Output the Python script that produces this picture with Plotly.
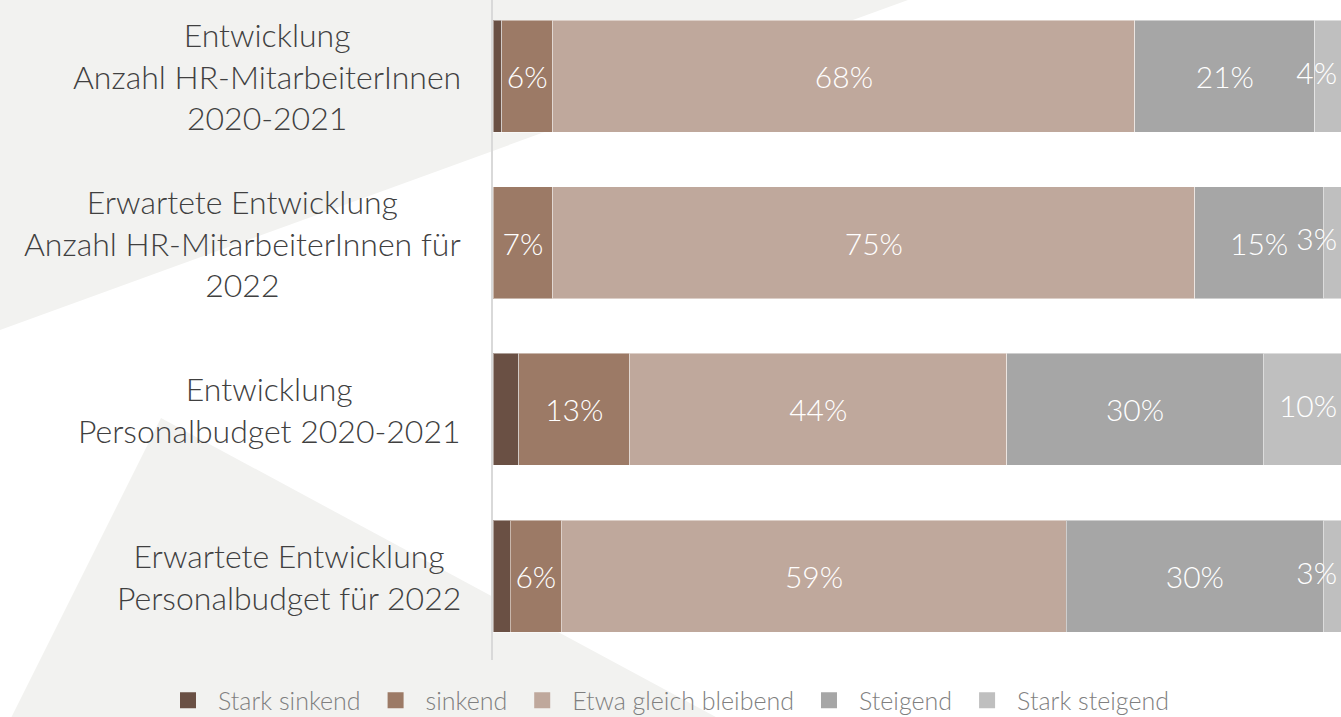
import plotly.graph_objects as go

# ---------------- data ----------------
categories = [
    "Entwicklung<br>Anzahl HR-MitarbeiterInnen<br>2020-2021",
    "Erwartete Entwicklung<br>Anzahl HR-MitarbeiterInnen für<br>2022",
    "Entwicklung<br>Personalbudget 2020-2021",
    "Erwartete Entwicklung<br>Personalbudget für 2022",
]
series_names = ["Stark sinkend", "sinkend", "Etwa gleich bleibend", "Steigend", "Stark steigend"]
stark_sinkend = [1, 0, 3, 2]
sinkend = [6, 7, 13, 6]
etwa_gleich = [68, 75, 44, 59]
steigend = [21, 15, 30, 30]
stark_steigend = [4, 3, 10, 3]

series_values = [stark_sinkend, sinkend, etwa_gleich, steigend, stark_steigend]
colors = ["#6a5044", "#9c7a66", "#bfa89c", "#a6a6a6", "#bfbfbf"]
# which series carry an in-bar label: "none", "center", or "edge" (pinned to visible right edge)
label_mode = ["none", "center", "center", "center", "edge"]

FONT = "Lato"
X_MAX = 99.07   # visible end of the value axis (chart is cut at the right)
EDGE_PAD = 0.45  # keep edge labels slightly inside the visible area
LABEL_FONT = dict(family=FONT, size=30, color="white", weight=300)

fig = go.Figure()

for name, vals, col, mode in zip(series_names, series_values, colors, label_mode):
    if mode == "center":
        kw = dict(texttemplate="%{x}%", textposition="inside", textangle=0,
                  insidetextanchor="middle", constraintext="none",
                  textfont=LABEL_FONT)
    else:
        kw = dict(texttemplate="", textposition="none")
    fig.add_trace(go.Bar(
        x=vals, y=categories, orientation="h", name=name,
        marker=dict(color=col, line=dict(color="rgba(255,255,255,0.45)", width=1)),
        showlegend=False, hoverinfo="skip", **kw))

# labels pinned at the visible right edge
for name, vals, mode in zip(series_names, series_values, label_mode):
    if mode == "edge":
        fig.add_trace(go.Scatter(
            x=[X_MAX - EDGE_PAD] * len(vals), y=categories, mode="text",
            text=[f"{v}%" for v in vals], textposition="middle left",
            textfont=LABEL_FONT, showlegend=False, hoverinfo="skip", cliponaxis=False))

# legend entries (square symbols)
for name, col in zip(series_names, colors):
    fig.add_trace(go.Scatter(x=[None], y=[None], mode="markers", name=name,
                             marker=dict(symbol="square", size=16, color=col),
                             showlegend=True, hoverinfo="skip"))

# category labels (centered multi-line)
for c in categories:
    fig.add_annotation(x=0, xref="paper", xanchor="right", xshift=-30,
                       y=c, yref="y", yanchor="middle", text=c, align="center",
                       showarrow=False,
                       font=dict(family=FONT, size=32, color="#404040", weight=300))

# background decorative polygons (pixel -> paper coords)
L, R, T, B = 493, 1341, 0, 660
def px(x, y):
    return (x - L) / (R - L), (B - y) / (B - T)

def poly(points):
    s = ""
    for k, (x, y) in enumerate(points):
        xp, yp = px(x, y)
        s += ("M" if k == 0 else "L") + f"{xp:.5f},{yp:.5f} "
    return s + "Z"

bg = "#f2f2f0"
fig.add_shape(type="path", xref="paper", yref="paper", layer="below",
              path=poly([(0, 0), (908, 0), (0, 330)]), fillcolor=bg, line_width=0)
fig.add_shape(type="path", xref="paper", yref="paper", layer="below",
              path=poly([(161, 418), (740, 730), (5, 730)]), fillcolor=bg, line_width=0)

fig.update_layout(
    width=1341, height=717,
    margin=dict(l=L, r=1341 - R, t=T, b=717 - B, autoexpand=False),
    barmode="stack", bargap=0.328,
    paper_bgcolor="white", plot_bgcolor="rgba(0,0,0,0)",
    font=dict(family=FONT, color="#404040"),
    xaxis=dict(range=[0, X_MAX], visible=False, fixedrange=True),
    yaxis=dict(type="category", categoryorder="array", categoryarray=categories,
               range=[3.504, -0.456], showticklabels=False, ticks="",
               showgrid=False, zeroline=False, showline=True,
               linecolor="#d9d9d9", linewidth=2, fixedrange=True),
    legend=dict(orientation="h", xref="paper", yref="paper",
                x=(158 - L) / (R - L), xanchor="left",
                y=(B - 700.5) / (B - T), yanchor="middle",
                font=dict(family=FONT, size=25, color="#7f7f7f", weight=300),
                itemwidth=50, bgcolor="rgba(0,0,0,0)", traceorder="normal"),
    showlegend=True,
)

fig.write_html("out.html")
